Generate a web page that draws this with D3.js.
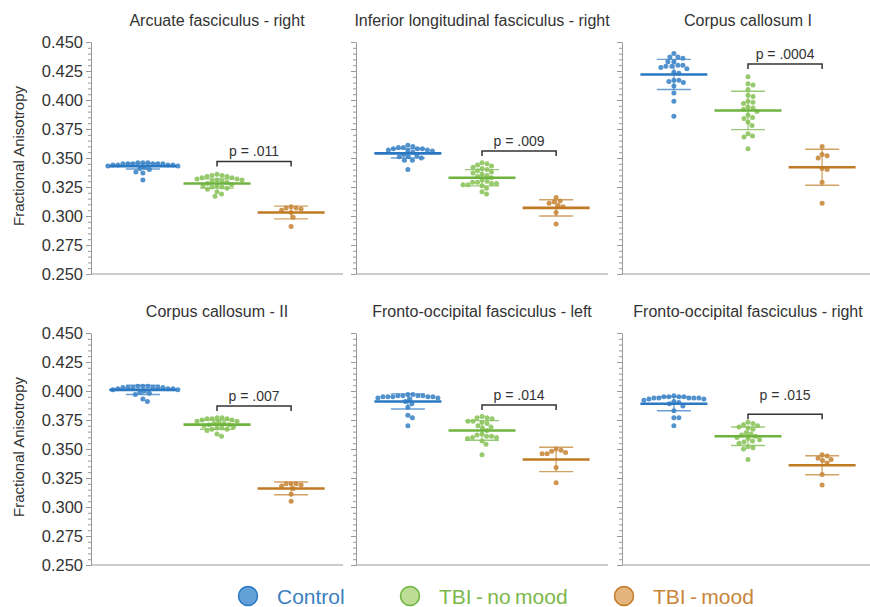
<!DOCTYPE html>
<html>
<head>
<meta charset="utf-8">
<script src="https://cdn.jsdelivr.net/npm/d3@7"></script>
<style>
  body { margin: 0; background: #fff; }
  text { font-family: "Liberation Sans", Arial, sans-serif; }
</style>
</head>
<body>
<div id="chart"></div>
<script>
// ---- data ----
const groups = ["Control", "TBI - no mood", "TBI - mood"];
const panelTitles = [
  "Arcuate fasciculus - right",
  "Inferior longitudinal fasciculus - right",
  "Corpus callosum I",
  "Corpus callosum - II",
  "Fronto-occipital fasciculus - left",
  "Fronto-occipital fasciculus - right"
];
const pLabels = ["p = .011", "p = .009", "p = .0004", "p = .007", "p = .014", "p = .015"];
const bracketVals = [0.347, 0.356, 0.431, 0.387, 0.388, 0.380];
const yTicks = [0.250, 0.275, 0.300, 0.325, 0.350, 0.375, 0.400, 0.425, 0.450];

// group means and SDs (control, no mood, mood) per panel
const meanVals = [
  [0.343, 0.328, 0.303],
  [0.354, 0.333, 0.307],
  [0.422, 0.391, 0.342],
  [0.401, 0.371, 0.316],
  [0.391, 0.366, 0.341],
  [0.389, 0.361, 0.336]
];
const sdVals = [
  [0.0025, 0.004, 0.0055],
  [0.004, 0.007, 0.007],
  [0.013, 0.0165, 0.0155],
  [0.004, 0.004, 0.0055],
  [0.0065, 0.0085, 0.0105],
  [0.006, 0.008, 0.0082]
];

// individual subjects
const arcuateRight = [
  [0.346,0.346,0.346,0.345,0.345,0.345,0.345,0.345,0.345,0.344,0.344,0.344,0.344,0.343,0.343,0.342,0.341,0.340,0.338,0.337,0.331],
  [0.336,0.335,0.335,0.334,0.334,0.333,0.333,0.332,0.332,0.331,0.331,0.330,0.330,0.329,0.328,0.327,0.326,0.326,0.325,0.325,0.324,0.323,0.321,0.319,0.317],
  [0.308,0.307,0.307,0.306,0.305,0.303,0.299,0.291]
];
const ilfRight = [
  [0.361,0.360,0.359,0.359,0.358,0.358,0.358,0.357,0.357,0.356,0.356,0.355,0.353,0.352,0.351,0.351,0.350,0.348,0.348,0.340],
  [0.346,0.345,0.344,0.343,0.342,0.341,0.340,0.339,0.338,0.337,0.336,0.335,0.334,0.333,0.331,0.330,0.329,0.329,0.328,0.328,0.327,0.327,0.326,0.324,0.321,0.319],
  [0.316,0.313,0.312,0.311,0.309,0.308,0.303,0.293]
];
const corpusCallosumI = [
  [0.440,0.437,0.437,0.436,0.433,0.433,0.430,0.430,0.429,0.429,0.428,0.427,0.424,0.423,0.417,0.417,0.416,0.415,0.412,0.406,0.399,0.386],
  [0.420,0.414,0.413,0.409,0.404,0.403,0.399,0.398,0.397,0.394,0.393,0.392,0.390,0.387,0.385,0.384,0.381,0.378,0.371,0.369,0.368,0.358],
  [0.360,0.353,0.352,0.350,0.341,0.340,0.329,0.311]
];
const corpusCallosumII = [
  [0.404,0.404,0.404,0.403,0.403,0.403,0.403,0.403,0.403,0.402,0.402,0.402,0.401,0.401,0.400,0.399,0.398,0.397,0.393,0.391],
  [0.377,0.377,0.376,0.376,0.376,0.375,0.375,0.374,0.374,0.373,0.372,0.372,0.371,0.371,0.370,0.369,0.368,0.368,0.367,0.367,0.366,0.363,0.361],
  [0.320,0.320,0.320,0.319,0.318,0.316,0.311,0.305]
];
const frontoOccLeft = [
  [0.397,0.397,0.396,0.396,0.396,0.396,0.395,0.395,0.395,0.395,0.395,0.394,0.394,0.393,0.391,0.389,0.386,0.379,0.377,0.370],
  [0.378,0.377,0.377,0.376,0.374,0.374,0.373,0.372,0.370,0.369,0.368,0.366,0.363,0.362,0.361,0.361,0.360,0.360,0.359,0.357,0.354,0.345],
  [0.350,0.349,0.348,0.347,0.346,0.346,0.334,0.321]
];
const frontoOccRight = [
  [0.396,0.395,0.395,0.395,0.395,0.394,0.394,0.394,0.394,0.394,0.393,0.393,0.392,0.391,0.390,0.389,0.387,0.383,0.377,0.377,0.370],
  [0.373,0.372,0.371,0.370,0.369,0.368,0.367,0.364,0.363,0.362,0.361,0.360,0.359,0.358,0.357,0.356,0.355,0.352,0.351,0.350,0.341],
  [0.345,0.344,0.342,0.341,0.340,0.338,0.328,0.319]
];
const panelData = [arcuateRight, ilfRight, corpusCallosumI, corpusCallosumII, frontoOccLeft, frontoOccRight];

// ---- layout / style ----
const width = 870, height = 607;
const colX = [91, 356, 622];
const rowY = [42, 333];
const panelW = 252, panelH = 232;
const dotR = 2.5;
const textGap = [5, 5, 5, 5, 5, 14];
const lineColors = ["#2b78c2", "#6fb33f", "#c07a23"];
const dotColors = ["#3f86c8", "#8cc45c", "#c98a3d"];
const legendFill = ["#64a0d8", "#bcdd93", "#e3b47e"];
const legendText = ["#3b7fc1", "#7cb74a", "#c8843a"];

const svg = d3.select("#chart").append("svg")
  .attr("width", width)
  .attr("height", height);

const y = d3.scaleLinear().domain([0.25, 0.45]).range([panelH, 0]);
const x = d3.scalePoint().domain(groups).range([0, panelW]).padding(0.7);

// simple beeswarm: push each point sideways until it does not overlap
function swarm(values) {
  const pts = values.map(v => ({ v, py: y(v) })).sort((a, b) => a.py - b.py);
  const placed = [];
  pts.forEach(p => {
    for (let k = 0; k < 400; k++) {
      const off = Math.ceil(k / 2) * 0.5 * (k % 2 ? 1 : -1);
      const ok = placed.every(q => Math.hypot(q.dx - off, q.py - p.py) >= dotR * 2);
      if (ok) { p.dx = off; break; }
    }
    placed.push(p);
  });
  return placed;
}

panelData.forEach((data, i) => {
  const col = i % 3, row = Math.floor(i / 3);
  const g = svg.append("g").attr("transform", `translate(${colX[col]},${rowY[row]})`);

  // title
  g.append("text")
    .attr("x", panelW / 2).attr("y", -16)
    .attr("text-anchor", "middle")
    .attr("font-size", 16)
    .attr("fill", "#333")
    .text(panelTitles[i]);

  // axes
  const minor = d3.range(0.25, 0.4501, 0.005);
  g.append("g")
    .call(d3.axisLeft(y).tickValues(minor).tickSize(3).tickFormat(""))
    .call(a => a.select(".domain").remove())
    .selectAll("line").attr("stroke", "#999");
  const ya = g.append("g")
    .call(d3.axisLeft(y).tickValues(yTicks).tickSize(5).tickSizeOuter(0)
      .tickFormat(col === 0 ? d3.format(".3f") : ""));
  ya.select(".domain").attr("stroke", "#999");
  ya.selectAll("line").attr("stroke", "#999");
  ya.selectAll("text").attr("font-size", 16.5).attr("fill", "#333")
    .attr("font-family", '"Liberation Sans", Arial, sans-serif');

  g.append("line")
    .attr("x1", 0).attr("x2", panelW)
    .attr("y1", panelH).attr("y2", panelH)
    .attr("stroke", "#999");

  if (col === 0) {
    g.append("text")
      .attr("transform", `translate(${24 - colX[0]},${panelH / 2 - 2}) rotate(-90)`)
      .attr("text-anchor", "middle")
      .attr("font-size", 15)
      .attr("fill", "#333")
      .text("Fractional Anisotropy");
  }

  // groups
  groups.forEach((grp, j) => {
    const cx = x(grp);
    const m = meanVals[i][j], sd = sdVals[i][j];

    g.append("line")
      .attr("x1", cx).attr("x2", cx)
      .attr("y1", y(m + sd)).attr("y2", y(m - sd))
      .attr("stroke", lineColors[j]).attr("stroke-width", 1.3).attr("opacity", 0.7);
    [m + sd, m - sd].forEach(v => {
      g.append("line")
        .attr("x1", cx - 17).attr("x2", cx + 17)
        .attr("y1", y(v)).attr("y2", y(v))
        .attr("stroke", lineColors[j]).attr("stroke-width", 1.4).attr("opacity", 0.7);
    });

    g.selectAll(null)
      .data(swarm(data[j]))
      .join("circle")
      .attr("cx", d => cx + d.dx)
      .attr("cy", d => d.py)
      .attr("r", dotR)
      .attr("fill", dotColors[j])
      .attr("opacity", 0.9);

    g.append("line")
      .attr("x1", cx - 33.5).attr("x2", cx + 33.5)
      .attr("y1", y(m)).attr("y2", y(m))
      .attr("stroke", lineColors[j]).attr("stroke-width", 2.6);
  });

  // significance bracket
  const bx1 = x(groups[1]), bx2 = x(groups[2]), by = y(bracketVals[i]);
  g.append("path")
    .attr("d", d3.line()([[bx1, by + 5], [bx1, by], [bx2, by], [bx2, by + 5]]))
    .attr("fill", "none").attr("stroke", "#333").attr("stroke-width", 1.5);
  g.append("text")
    .attr("x", (bx1 + bx2) / 2).attr("y", by - textGap[i])
    .attr("text-anchor", "middle")
    .attr("font-size", 14)
    .attr("fill", "#333")
    .text(pLabels[i]);
});

// legend
const legendX = [248, 410, 624];
const lg = svg.append("g").attr("transform", "translate(0,596)");
groups.forEach((grp, j) => {
  lg.append("circle")
    .attr("cx", legendX[j]).attr("cy", 0).attr("r", 9.5)
    .attr("fill", legendFill[j]).attr("stroke", lineColors[j]).attr("stroke-width", 1.5);
  lg.append("text")
    .attr("x", legendX[j] + 29).attr("y", 7.5)
    .attr("font-size", 21)
    .attr("word-spacing", "-1.5px")
    .attr("fill", legendText[j])
    .text(grp);
});
</script>
</body>
</html>
